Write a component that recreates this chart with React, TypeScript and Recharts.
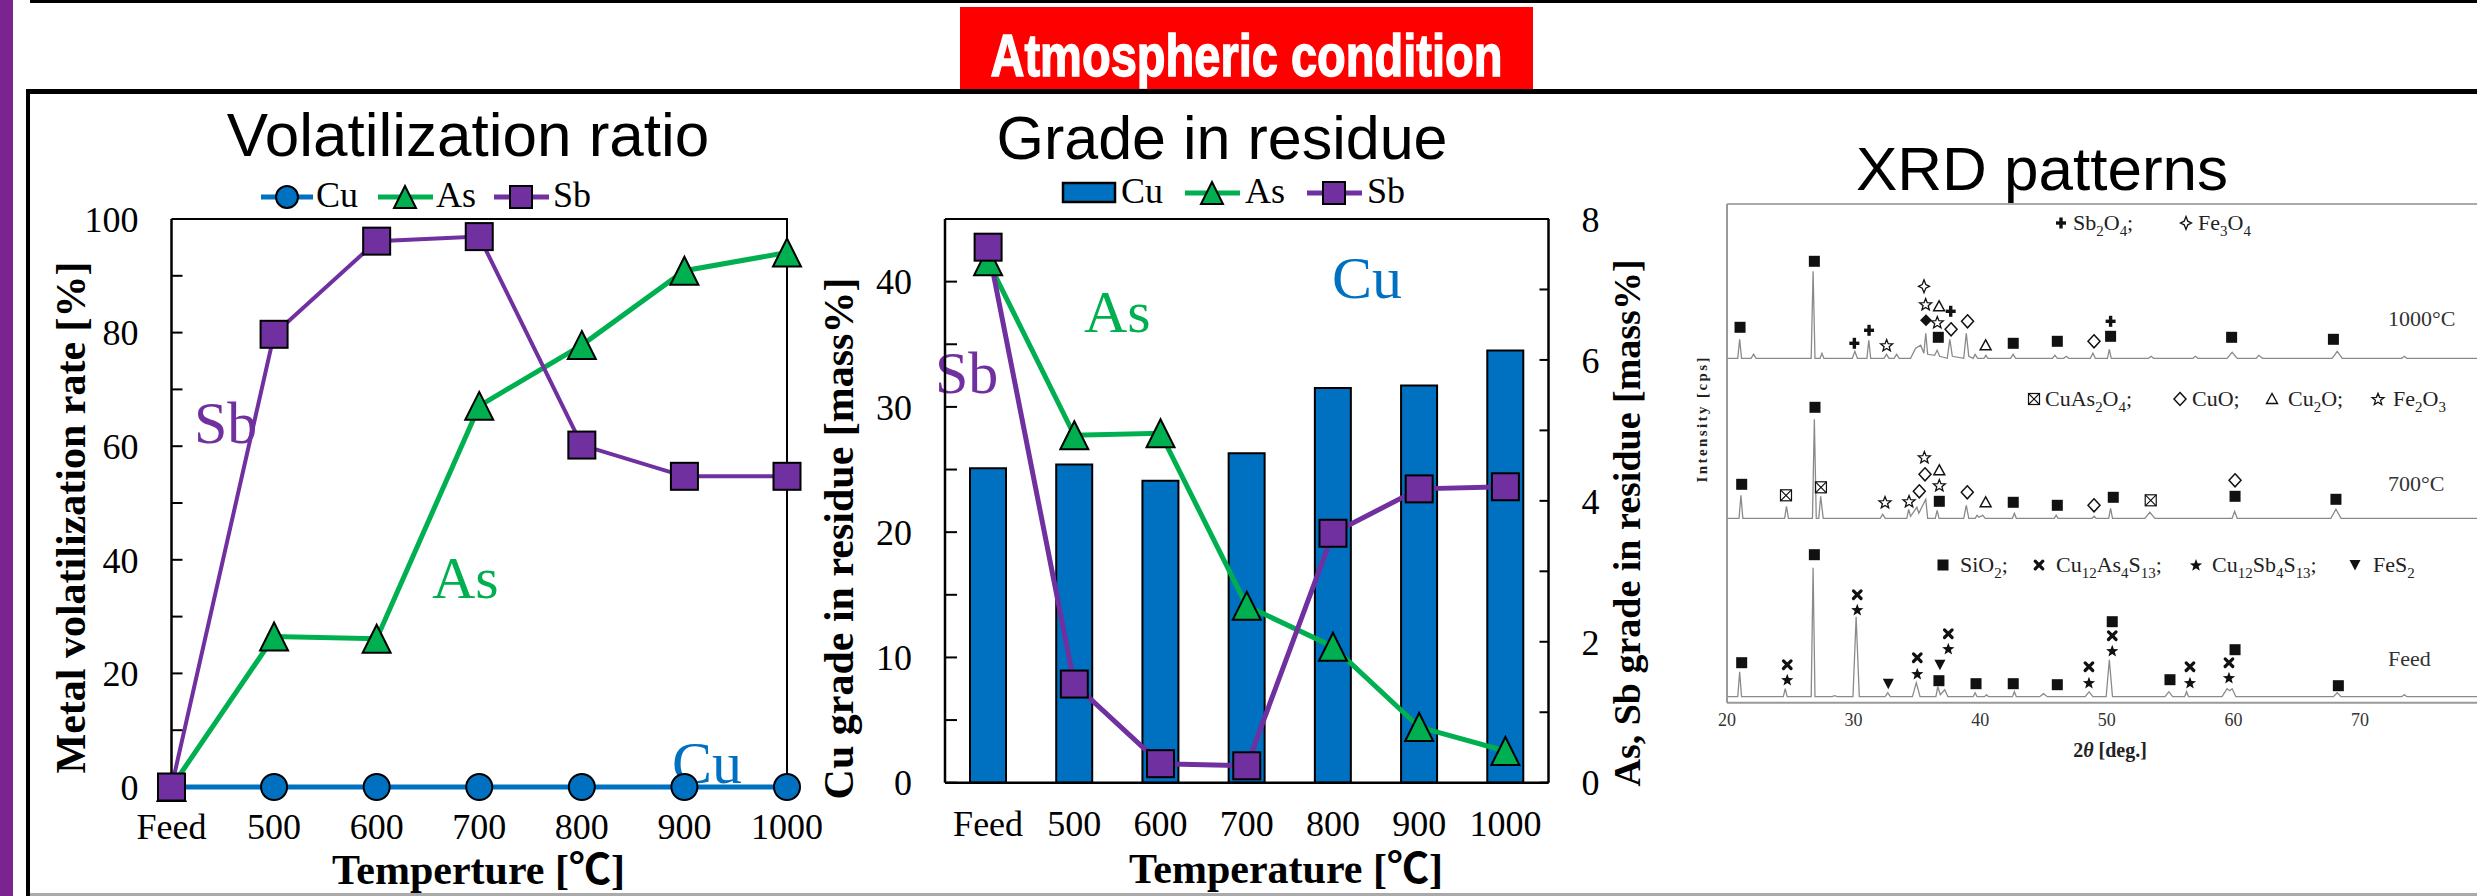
import React from 'react';
import { LineChart, Line, XAxis, YAxis, ComposedChart, Bar, Scatter } from 'recharts';

// ---------------- data ----------------
const categories = ['Feed', '500', '600', '700', '800', '900', '1000'];
const volCu = [0, 0, 0, 0, 0, 0, 0];
const volAs = [0, 26.5, 26.1, 67.1, 77.8, 90.9, 94.1];
const volSb = [0, 79.7, 96.1, 96.9, 60.2, 54.7, 54.7];

const gradeCu = [25.1, 25.4, 24.1, 26.3, 31.5, 31.7, 34.5];
const gradeAs = [7.4, 4.93, 4.96, 2.51, 1.93, 0.79, 0.45];
const gradeSb = [7.6, 1.4, 0.27, 0.24, 3.54, 4.17, 4.2];

const volTicks = [0, 10, 20, 30, 40, 50, 60, 70, 80, 90, 100];
const cuTicks = [0, 5, 10, 15, 20, 25, 30, 35, 40];
const asSbTicks = [0, 1, 2, 3, 4, 5, 6, 7, 8];
const xrdTicks = [20, 30, 40, 50, 60, 70];

// XRD traces: [2theta, intensity above the pattern baseline]
const xrd1000: [number, number][] = [
  [20, 0], [20.85, 0], [21.0, 19], [21.15, 0], [21.9, 0], [22.1, 4], [22.3, 0], [26.65, 0], [26.8, 87], [26.95, 0],
  [27.35, 0], [27.5, 5], [27.65, 0], [29.9, 0], [30.1, 7], [30.3, 0], [31.05, 0], [31.2, 18], [31.35, 0], [32.4, 0],
  [32.6, 4], [32.8, 0], [33.2, 0], [33.4, 4], [33.6, 0], [34.5, 0], [34.9, 10], [35.3, 13], [35.55, 5], [35.7, 25],
  [35.85, 4], [36.4, 3], [36.6, 8], [36.8, 2], [37.4, 0], [37.6, 19], [37.8, 2], [38.7, 0], [38.9, 25], [39.1, 2],
  [39.45, 0], [39.6, 4], [39.8, 0], [40.3, 0], [40.45, 3], [40.6, 0], [42.4, 0], [42.6, 4], [42.8, 0], [45.7, 0],
  [45.9, 3], [46.1, 0], [46.6, 0], [46.8, 2], [47.0, 0], [48.7, 0], [48.9, 5], [49.1, 0], [50.05, 0], [50.2, 9],
  [50.35, 0], [53.3, 0], [53.5, 2], [53.7, 0], [56.8, 0], [57.0, 2], [57.2, 0], [59.5, 0], [59.9, 6], [60.3, 0],
  [61.8, 0], [62.0, 3], [62.3, 0], [67.8, 0], [68.2, 7], [68.6, 0], [73.3, 0], [73.5, 2], [73.7, 0], [80, 0],
];
const xrd700: [number, number][] = [
  [20, 0], [20.95, 0], [21.1, 23], [21.25, 0], [24.55, 0], [24.7, 12], [24.85, 0], [26.75, 0], [26.9, 99], [27.05, 0],
  [27.25, 0], [27.4, 22], [27.6, 0], [32.1, 0], [32.3, 4], [32.5, 0], [34.2, 0], [34.35, 9], [34.5, 2], [35.0, 11],
  [35.15, 5], [35.7, 19], [35.85, 0], [36.45, 0], [36.6, 8], [36.75, 0], [38.7, 0], [38.9, 13], [39.1, 0], [39.6, 0],
  [39.75, 3], [39.9, 1], [40.2, 3], [40.4, 0], [42.55, 0], [42.7, 5], [42.85, 0], [45.85, 0], [46.0, 3], [46.15, 0],
  [48.85, 0], [49.0, 2], [49.15, 0], [50.15, 0], [50.3, 10], [50.45, 0], [53.0, 0], [53.4, 6], [53.8, 0], [59.9, 0],
  [60.1, 7], [60.3, 0], [67.7, 0], [68.1, 9], [68.5, 0], [80, 0],
];
const xrdFeed: [number, number][] = [
  [20, 0], [20.85, 0], [21.0, 25], [21.15, 0], [24.45, 0], [24.6, 8], [24.75, 0], [26.65, 0], [26.8, 129], [26.95, 0],
  [28.3, 0], [28.5, 1], [28.7, 0], [29.95, 0], [30.2, 80], [30.45, 0], [32.5, 0], [32.7, 4], [32.9, 0], [34.65, 0],
  [34.95, 14], [35.25, 0], [36.5, 0], [36.65, 10], [36.85, 2], [37.2, 7], [37.45, 0], [39.45, 0], [39.6, 4], [39.75, 0],
  [40.35, 0], [40.5, 2], [40.65, 0], [42.55, 0], [42.7, 5], [42.85, 0], [44.7, 0], [45.0, 3], [45.3, 0], [48.3, 0],
  [48.6, 5], [48.9, 0], [49.95, 0], [50.2, 37], [50.45, 0], [54.6, 0], [54.9, 5], [55.2, 0], [56.15, 0], [56.3, 5],
  [56.45, 0], [59.1, 0], [59.5, 8], [59.7, 6], [59.9, 8], [60.2, 0], [67.9, 0], [68.2, 4], [68.5, 0], [73.3, 0],
  [73.5, 2], [73.7, 0], [80, 0],
];
// stacking offsets of the three patterns (intensity units)
const offset1000 = 344.4;
const offset700 = 184.4;
const offsetFeed = 6;

// phase markers: [2theta, height above pattern baseline, symbol]
const mk1000: [number, number, string][] = [
  [21.03, 31, '■'], [26.9, 97, '■'], [30.06, 15, '✚'], [31.22, 28, '✚'], [32.61, 13, '☆'], [35.56, 72, '✧'],
  [35.69, 54, '☆'], [36.75, 52, '△'], [37.67, 47, '✚'], [35.72, 38, '◆'], [36.61, 36, '☆'], [36.69, 21, '■'],
  [37.7, 29, '◇'], [39.0, 37, '◇'], [40.43, 13, '△'], [42.61, 15, '■'], [46.09, 17, '■'], [48.99, 17, '◇'],
  [50.3, 22, '■'], [50.3, 37, '✚'], [59.86, 21, '■'], [67.9, 19, '■'],
];
const mk700: [number, number, string][] = [
  [21.16, 34, '■'], [24.66, 23, '⊠'], [26.95, 111, '■'], [27.42, 31, '⊠'], [32.48, 16, '☆'], [34.38, 17, '☆'],
  [35.19, 27, '◇'], [35.64, 44, '◇'], [35.59, 61, '☆'], [36.77, 48, '△'], [36.77, 33, '☆'], [36.77, 17, '■'],
  [38.98, 26, '◇'], [40.43, 16, '△'], [42.61, 16, '■'], [46.09, 13, '■'], [48.99, 13, '◇'], [50.51, 21, '■'],
  [53.47, 18, '⊠'], [60.13, 38, '◇'], [60.13, 22, '■'], [68.1, 19, '■'],
];
const mkFeed: [number, number, string][] = [
  [21.16, 34, '■'], [24.76, 32, '✖'], [24.76, 17, '★'], [26.9, 142, '■'], [30.29, 102, '✖'], [30.29, 87, '★'],
  [32.74, 13, '▼'], [35.03, 39, '✖'], [35.03, 23, '★'], [36.82, 32, '▼'], [36.74, 16, '■'], [37.48, 63, '✖'],
  [37.48, 48, '★'], [39.67, 13, '■'], [42.61, 13, '■'], [46.09, 12, '■'], [48.59, 30, '✖'], [48.59, 14, '★'],
  [50.43, 75, '■'], [50.43, 61, '✖'], [50.43, 46, '★'], [54.99, 17, '■'], [56.57, 30, '✖'], [56.57, 14, '★'],
  [59.65, 34, '✖'], [59.65, 19, '★'], [60.13, 47, '■'], [68.29, 11, '■'],
];

// ---------------- styles ----------------
const SERIF = '"Liberation Serif","Times New Roman","Noto Sans CJK JP",serif';
const SANS = '"Liberation Sans",Arial,sans-serif';
const PURPLE = '#7030A0';
const GREEN = '#00B050';
const BLUE = '#0070C0';
const INK = '#111';

const volData = categories.map((c, i) => ({ cat: c, cu: volCu[i], as: volAs[i], sb: volSb[i] }));
const gradeData = categories.map((c, i) => ({ cat: c, cu: gradeCu[i], as: gradeAs[i], sb: gradeSb[i] }));
const toLine = (arr: [number, number][], off: number) => arr.map(([x, y]) => ({ x, y: y + off }));
const toMk = (arr: [number, number, string][], off: number) => arr.map(([x, y, s]) => ({ x, y: y + off, s }));

const dotCircle = (color: string, r: number) => (p: any) => (
  <circle key={`c${p.index}`} cx={p.cx} cy={p.cy} r={r} fill={color} stroke="#000" strokeWidth={2} />
);
const dotTri = (color: string, s: number) => (p: any) => (
  <polygon
    key={`t${p.index}`}
    points={`${p.cx},${p.cy - s / 2} ${p.cx - s / 2},${p.cy + s / 2} ${p.cx + s / 2},${p.cy + s / 2}`}
    fill={color}
    stroke="#000"
    strokeWidth={2}
  />
);
const dotSq = (color: string, s: number) => (p: any) => (
  <rect key={`s${p.index}`} x={p.cx - s / 2} y={p.cy - s / 2} width={s} height={s} fill={color} stroke="#000" strokeWidth={2} />
);

const starPts = (cx: number, cy: number, ro: number, ri: number, n: number) => {
  const pts: string[] = [];
  for (let k = 0; k < n * 2; k++) {
    const r = k % 2 === 0 ? ro : ri;
    const a = -Math.PI / 2 + (k * Math.PI) / n;
    pts.push(`${(cx + r * Math.cos(a)).toFixed(2)},${(cy + r * Math.sin(a)).toFixed(2)}`);
  }
  return pts.join(' ');
};

// phase symbol glyphs drawn as shapes
const Glyph = ({ cx, cy, s }: { cx: number; cy: number; s: string }) => {
  switch (s) {
    case '■':
      return <rect x={cx - 5.5} y={cy - 5.5} width={11} height={11} fill={INK} />;
    case '✖':
      return (
        <g stroke={INK} strokeWidth={3.2} strokeLinecap="round">
          <line x1={cx - 3.8} y1={cy - 3.8} x2={cx + 3.8} y2={cy + 3.8} />
          <line x1={cx - 3.8} y1={cy + 3.8} x2={cx + 3.8} y2={cy - 3.8} />
        </g>
      );
    case '★':
      return <polygon points={starPts(cx, cy + 0.5, 6.5, 2.7, 5)} fill={INK} />;
    case '☆':
      return <polygon points={starPts(cx, cy + 0.5, 6.3, 2.7, 5)} fill="none" stroke={INK} strokeWidth={1.3} />;
    case '▼':
      return <polygon points={`${cx - 5.5},${cy - 5} ${cx + 5.5},${cy - 5} ${cx},${cy + 5.5}`} fill={INK} />;
    case '△':
      return <polygon points={`${cx},${cy - 5.5} ${cx - 5.5},${cy + 4.5} ${cx + 5.5},${cy + 4.5}`} fill="none" stroke={INK} strokeWidth={1.4} />;
    case '✚':
      return (
        <g stroke={INK} strokeWidth={3.4}>
          <line x1={cx - 5} y1={cy} x2={cx + 5} y2={cy} />
          <line x1={cx} y1={cy - 5.5} x2={cx} y2={cy + 5.5} />
        </g>
      );
    case '◇':
      return <polygon points={`${cx},${cy - 6.5} ${cx + 6},${cy} ${cx},${cy + 6.5} ${cx - 6},${cy}`} fill="none" stroke={INK} strokeWidth={1.5} />;
    case '◆':
      return <polygon points={`${cx},${cy - 6} ${cx + 6},${cy} ${cx},${cy + 6} ${cx - 6},${cy}`} fill={INK} />;
    case '✧':
      return (
        <polygon
          points={`${cx},${cy - 6.5} ${cx + 1.8},${cy - 1.8} ${cx + 5.5},${cy} ${cx + 1.8},${cy + 1.8} ${cx},${cy + 6.5} ${cx - 1.8},${cy + 1.8} ${cx - 5.5},${cy} ${cx - 1.8},${cy - 1.8}`}
          fill="none"
          stroke={INK}
          strokeWidth={1.3}
        />
      );
    case '⊠':
      return (
        <g stroke={INK} strokeWidth={1.2} fill="none">
          <rect x={cx - 5.5} y={cy - 5.5} width={11} height={11} />
          <line x1={cx - 5.5} y1={cy - 5.5} x2={cx + 5.5} y2={cy + 5.5} />
          <line x1={cx - 5.5} y1={cy + 5.5} x2={cx + 5.5} y2={cy - 5.5} />
        </g>
      );
    default:
      return null;
  }
};
const symShape = (p: any) => <Glyph cx={p.cx} cy={p.cy} s={p.payload.s} />;

const tickFont = { fill: '#000', fontSize: 36, fontFamily: SERIF };

// chemical formula with subscripts written as _n
const Chem = ({ x, y, text, fs }: { x: number; y: number; text: string; fs: number }) => {
  const parts = text.split(/(_\d+)/).filter((t) => t.length > 0);
  let shifted = false;
  return (
    <text x={x} y={y} fontSize={fs} fontFamily={SERIF} fill="#222">
      {parts.map((t, i) => {
        if (t.startsWith('_')) {
          const dy = shifted ? 0 : fs * 0.25;
          shifted = true;
          return (
            <tspan key={i} dy={dy} fontSize={fs * 0.68}>
              {t.slice(1)}
            </tspan>
          );
        }
        const dy = shifted ? -fs * 0.25 : 0;
        shifted = false;
        return (
          <tspan key={i} dy={dy}>
            {t}
          </tspan>
        );
      })}
    </text>
  );
};

const abs = (l: number, t: number, w: number, h: number, bg: string): React.CSSProperties => ({
  position: 'absolute', left: l, top: t, width: w, height: h, background: bg,
});

export default function App() {
  return (
    <div style={{ position: 'fixed', left: 0, top: 0, width: 2477, height: 896, overflow: 'hidden', background: '#fff' }}>
      {/* frame decorations */}
      <div style={abs(0, 0, 13, 896, '#7B2490')} />
      <div style={abs(30, 0, 2447, 3, '#000')} />
      <div style={abs(26, 89, 2451, 5, '#000')} />
      <div style={abs(26, 89, 4, 807, '#000')} />
      <div style={abs(30, 893, 2447, 3, '#aaa')} />
      <div style={abs(960, 7, 573, 82, '#FF0000')} />
      {/* plot boxes */}
      <div style={abs(171.5, 218, 616.5, 2, '#000')} />
      <div style={abs(786, 218, 2, 570, '#000')} />
      <div style={abs(170.5, 785.8, 617.5, 2.6, '#000')} />
      <div style={abs(945, 218, 604, 2, '#000')} />
      <div style={abs(1727, 203, 760, 2, '#aaa')} />

      {/* text overlay */}
      <svg width={2477} height={896} style={{ position: 'absolute', left: 0, top: 0 }}>
        <text x={1246.5} y={76} textAnchor="middle" fontSize={60} fontWeight="bold" fontFamily={SANS} fill="#fff"
          stroke="#fff" strokeWidth={1.5} textLength={512} lengthAdjust="spacingAndGlyphs">Atmospheric condition</text>

        <text x={468} y={156} textAnchor="middle" fontSize={62} fontFamily={SANS}>Volatilization ratio</text>
        <text x={1222} y={159} textAnchor="middle" fontSize={61} fontFamily={SANS}>Grade in residue</text>
        <text x={2042} y={190} textAnchor="middle" fontSize={62} fontFamily={SANS}>XRD patterns</text>

        {/* axis titles */}
        <text x={85} y={517.5} transform="rotate(-90 85 517.5)" textAnchor="middle" fontSize={42} fontWeight="bold" fontFamily={SERIF}>Metal volatilization rate [%]</text>
        <text x={478.5} y={884} textAnchor="middle" fontSize={42} fontWeight="bold" fontFamily={SERIF}>Temperture [℃]</text>
        <text x={853} y={538.5} transform="rotate(-90 853 538.5)" textAnchor="middle" fontSize={42} fontWeight="bold" fontFamily={SERIF}>Cu grade in residue [mass%]</text>
        <text x={1640} y={523} transform="rotate(-90 1640 523)" textAnchor="middle" fontSize={38} fontWeight="bold" fontFamily={SERIF}>As, Sb grade in residue [mass%]</text>
        <text x={1286} y={883} textAnchor="middle" fontSize={42} fontWeight="bold" fontFamily={SERIF}>Temperature [℃]</text>

        {/* in-plot annotations */}
        <text x={194} y={443} fontSize={60} fontFamily={SERIF} fill={PURPLE}>Sb</text>
        <text x={432} y={598} fontSize={60} fontFamily={SERIF} fill={GREEN}>As</text>
        <text x={672} y={783} fontSize={60} fontFamily={SERIF} fill={BLUE}>Cu</text>
        <text x={1084} y={332} fontSize={60} fontFamily={SERIF} fill={GREEN}>As</text>
        <text x={935} y={393} fontSize={60} fontFamily={SERIF} fill={PURPLE}>Sb</text>
        <text x={1332} y={298} fontSize={60} fontFamily={SERIF} fill={BLUE}>Cu</text>

        {/* legend: volatilization */}
        <line x1={261} y1={197} x2={313} y2={197} stroke={BLUE} strokeWidth={5} />
        <circle cx={287} cy={197} r={11} fill={BLUE} stroke="#000" strokeWidth={2} />
        <text x={316} y={207} fontSize={36} fontFamily={SERIF}>Cu</text>
        <line x1={378} y1={197} x2={433} y2={197} stroke={GREEN} strokeWidth={5} />
        <polygon points="405,186 394,208 416,208" fill={GREEN} stroke="#000" strokeWidth={2} />
        <text x={436} y={207} fontSize={36} fontFamily={SERIF}>As</text>
        <line x1={494} y1={197} x2={549} y2={197} stroke={PURPLE} strokeWidth={5} />
        <rect x={510} y={186} width={22} height={22} fill={PURPLE} stroke="#000" strokeWidth={2} />
        <text x={553} y={207} fontSize={36} fontFamily={SERIF}>Sb</text>

        {/* legend: grade */}
        <rect x={1063} y={183} width={52} height={19} fill={BLUE} stroke="#000" strokeWidth={2.5} />
        <text x={1121} y={203} fontSize={36} fontFamily={SERIF}>Cu</text>
        <line x1={1185} y1={193} x2={1240} y2={193} stroke={GREEN} strokeWidth={5} />
        <polygon points="1212,182 1201,204 1223,204" fill={GREEN} stroke="#000" strokeWidth={2} />
        <text x={1245} y={203} fontSize={36} fontFamily={SERIF}>As</text>
        <line x1={1307} y1={193} x2={1362} y2={193} stroke={PURPLE} strokeWidth={5} />
        <rect x={1323} y={182} width={22} height={22} fill={PURPLE} stroke="#000" strokeWidth={2} />
        <text x={1367} y={203} fontSize={36} fontFamily={SERIF}>Sb</text>

        {/* XRD texts */}
        <text x={1707} y={420} transform="rotate(-90 1707 420)" textAnchor="middle" fontSize={15} fontWeight="bold" fontFamily={SERIF}
          fill="#222" textLength={125} lengthAdjust="spacing">Intensity [cps]</text>
        <text x={2110} y={757} textAnchor="middle" fontSize={20} fontWeight="bold" fontFamily={SERIF} fill="#222">
          2<tspan fontStyle="italic">θ</tspan> [deg.]
        </text>
        <text x={2388} y={326} fontSize={22} fontFamily={SERIF} fill="#333">1000°C</text>
        <text x={2388} y={491} fontSize={22} fontFamily={SERIF} fill="#333">700°C</text>
        <text x={2388} y={666} fontSize={22} fontFamily={SERIF} fill="#333">Feed</text>

        <Glyph cx={2061} cy={223} s="✚" />
        <Chem x={2073} y={230} text="Sb_2O_4;" fs={22} />
        <Glyph cx={2186} cy={223} s="✧" />
        <Chem x={2198} y={230} text="Fe_3O_4" fs={22} />

        <Glyph cx={2034} cy={399} s="⊠" />
        <Chem x={2045} y={406} text="CuAs_2O_4;" fs={22} />
        <Glyph cx={2180} cy={399} s="◇" />
        <Chem x={2192} y={406} text="CuO;" fs={22} />
        <Glyph cx={2272} cy={399} s="△" />
        <Chem x={2288} y={406} text="Cu_2O;" fs={22} />
        <Glyph cx={2378} cy={399} s="☆" />
        <Chem x={2393} y={406} text="Fe_2O_3" fs={22} />

        <Glyph cx={1943} cy={565} s="■" />
        <Chem x={1960} y={572} text="SiO_2;" fs={22} />
        <Glyph cx={2039} cy={565} s="✖" />
        <Chem x={2056} y={572} text="Cu_12As_4S_13;" fs={22} />
        <Glyph cx={2196} cy={565} s="★" />
        <Chem x={2212} y={572} text="Cu_12Sb_4S_13;" fs={22} />
        <Glyph cx={2355} cy={565} s="▼" />
        <Chem x={2373} y={572} text="FeS_2" fs={22} />
      </svg>

      {/* Volatilization ratio chart */}
      <div style={{ position: 'absolute', left: 0, top: 0 }}>
        <LineChart width={900} height={896} data={volData} margin={{ top: 219, right: 113, bottom: 79, left: 111.5 }}>
          <XAxis dataKey="cat" tickLine={false} tickSize={0} tickMargin={26} axisLine={false}
            tick={tickFont} interval={0} height={30} />
          <YAxis type="number" domain={[0, 100]} ticks={volTicks} interval={0} width={60}
            tickFormatter={(v: number) => (v % 20 === 0 ? String(v) : '')}
            tickSize={-11} tickMargin={44} tickLine={{ stroke: '#000', strokeWidth: 2 }}
            axisLine={{ stroke: '#000', strokeWidth: 2.5 }} tick={tickFont} />
          <Line dataKey="cu" stroke={BLUE} strokeWidth={5} dot={dotCircle(BLUE, 13)} activeDot={false} isAnimationActive={false} />
          <Line dataKey="as" stroke={GREEN} strokeWidth={5} dot={dotTri(GREEN, 28)} activeDot={false} isAnimationActive={false} />
          <Line dataKey="sb" stroke={PURPLE} strokeWidth={4} dot={dotSq(PURPLE, 27)} activeDot={false} isAnimationActive={false} />
        </LineChart>
      </div>

      {/* Grade in residue chart */}
      <div style={{ position: 'absolute', left: 800, top: 0 }}>
        <ComposedChart width={900} height={896} data={gradeData} margin={{ top: 219, right: 91.5, bottom: 83.3, left: 85 }}>
          <XAxis dataKey="cat" tickLine={false} tickSize={0} tickMargin={28} axisLine={{ stroke: '#000', strokeWidth: 2.5 }}
            tick={tickFont} interval={0} height={30} />
          <YAxis yAxisId="l" type="number" domain={[0, 45]} ticks={cuTicks} interval={0} width={60}
            tickFormatter={(v: number) => (v % 10 === 0 ? String(v) : '')}
            tickSize={-12} tickMargin={45} tickLine={{ stroke: '#000', strokeWidth: 2 }}
            axisLine={{ stroke: '#000', strokeWidth: 2.5 }} tick={tickFont} allowDataOverflow />
          <YAxis yAxisId="r" orientation="right" type="number" domain={[0, 8]} ticks={asSbTicks} interval={0} width={60}
            tickFormatter={(v: number) => (v % 2 === 0 ? String(v) : '')}
            tickSize={-9} tickMargin={42} tickLine={{ stroke: '#000', strokeWidth: 2 }}
            axisLine={{ stroke: '#000', strokeWidth: 2.5 }} tick={{ ...tickFont, textAnchor: 'start' }} allowDataOverflow />
          <Bar yAxisId="l" dataKey="cu" fill={BLUE} stroke="#000" strokeWidth={2} barSize={36} isAnimationActive={false} />
          <Line yAxisId="r" dataKey="as" stroke={GREEN} strokeWidth={5} dot={dotTri(GREEN, 28)} activeDot={false} isAnimationActive={false} />
          <Line yAxisId="r" dataKey="sb" stroke={PURPLE} strokeWidth={5} dot={dotSq(PURPLE, 27)} activeDot={false} isAnimationActive={false} />
        </ComposedChart>
      </div>

      {/* XRD patterns chart */}
      <div style={{ position: 'absolute', left: 1600, top: 0 }}>
        <ComposedChart width={900} height={896} margin={{ top: 204, right: 13.4, bottom: 163.3, left: 117 }}>
          <XAxis dataKey="x" type="number" domain={[20, 80]} ticks={xrdTicks} interval={0} allowDataOverflow
            tickLine={false} tickSize={0} tickMargin={11} axisLine={{ stroke: '#999', strokeWidth: 2 }}
            tick={{ fill: '#333', fontSize: 18, fontFamily: SERIF }} height={30} />
          <YAxis dataKey="y" type="number" domain={[0, 498.7]} allowDataOverflow tick={false} tickLine={false} width={10}
            axisLine={{ stroke: '#999', strokeWidth: 2 }} />
          <Line data={toLine(xrd1000, offset1000)} dataKey="y" type="linear" stroke="#8a8a8a" strokeWidth={1.3} dot={false} activeDot={false} isAnimationActive={false} />
          <Line data={toLine(xrd700, offset700)} dataKey="y" type="linear" stroke="#8a8a8a" strokeWidth={1.3} dot={false} activeDot={false} isAnimationActive={false} />
          <Line data={toLine(xrdFeed, offsetFeed)} dataKey="y" type="linear" stroke="#8a8a8a" strokeWidth={1.3} dot={false} activeDot={false} isAnimationActive={false} />
          <Scatter data={toMk(mk1000, offset1000)} dataKey="y" shape={symShape} isAnimationActive={false} />
          <Scatter data={toMk(mk700, offset700)} dataKey="y" shape={symShape} isAnimationActive={false} />
          <Scatter data={toMk(mkFeed, offsetFeed)} dataKey="y" shape={symShape} isAnimationActive={false} />
        </ComposedChart>
      </div>
    </div>
  );
}
